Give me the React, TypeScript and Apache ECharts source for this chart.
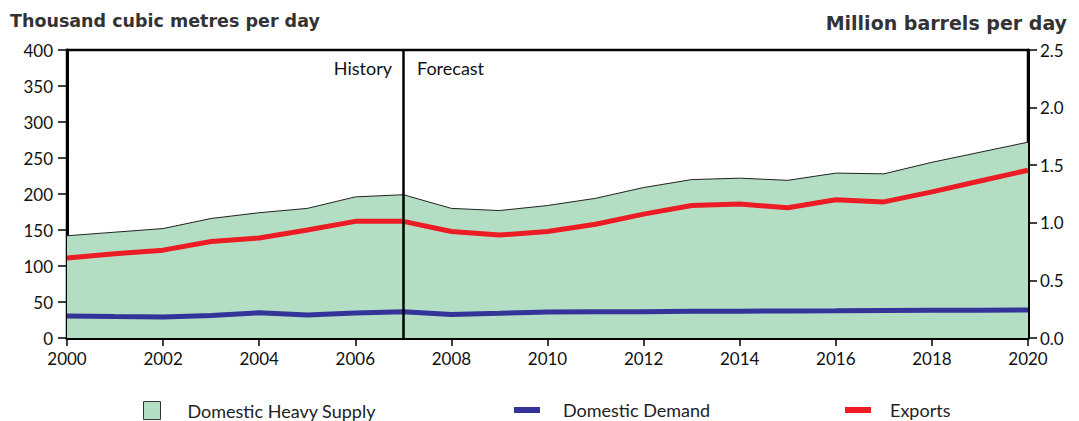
import React, { useEffect, useRef } from "react";
import * as echarts from "echarts";

const years = [2000, 2001, 2002, 2003, 2004, 2005, 2006, 2007, 2008, 2009, 2010, 2011, 2012, 2013, 2014, 2015, 2016, 2017, 2018, 2019, 2020];
const supply = [142, 147, 152, 166, 174, 180, 196, 199, 180, 177, 184, 194, 209, 220, 222, 219, 229, 228, 244, 258, 272];
const exportsVals = [111, 117, 122, 134, 139, 150, 162, 162, 148, 143, 148, 158, 172, 184, 186, 181, 192, 189, 203, 218, 233];
const demand = [30.5, 29.8, 29.2, 31.3, 35, 32, 34.6, 36.5, 32.8, 34.3, 36, 36.3, 36.6, 37, 37.2, 37.5, 37.8, 38.2, 38.5, 38.7, 39];
const leftTicks = [0, 50, 100, 150, 200, 250, 300, 350, 400];
const rightMax = 2.5;
const dividerYear = 2007;

const FONT = "Lato";
const TITLE_FONT = "DejaVu Sans";

export default function App() {
  const ref = useRef<HTMLDivElement>(null);
  useEffect(() => {
    const chart = echarts.init(ref.current!, null, { renderer: "svg" });
    const pair = (arr: number[]) => years.map((y, i) => [y, arr[i]]);
    const legendText = { fontFamily: FONT, fontSize: 18, color: "#222" };
    chart.setOption({
      animation: false,
      textStyle: { fontFamily: FONT },
      grid: { left: 67, right: 51, top: 50, bottom: 83, show: true, borderColor: "#000", borderWidth: 2.5 },
      title: [
        { text: "Thousand cubic metres per day", left: 10, top: 12, padding: 0, textStyle: { fontFamily: TITLE_FONT, fontWeight: "bold", fontSize: 17.5, color: "#333" } },
        { text: "Million barrels per day", right: 12, top: 13, padding: 0, textStyle: { fontFamily: TITLE_FONT, fontWeight: "bold", fontSize: 19, color: "#333" } },
      ],
      legend: [
        { data: ["Domestic Heavy Supply"], left: 143, top: 401, padding: 0, icon: "rect", itemWidth: 17, itemHeight: 18,
          itemStyle: { borderColor: "#333", borderWidth: 1 },
          textStyle: { ...legendText, padding: [0, 0, 4, 22] } },
        { data: ["Domestic Demand"], left: 514, top: 401, padding: 0, icon: "rect", itemWidth: 26, itemHeight: 6,
          textStyle: { ...legendText, padding: [0, 0, 4, 18] } },
        { data: ["Exports"], left: 845, top: 401, padding: 0, icon: "rect", itemWidth: 26, itemHeight: 6,
          textStyle: { ...legendText, padding: [0, 0, 4, 14] } },
      ],
      xAxis: {
        type: "value", min: 2000, max: 2020, interval: 2,
        axisLine: { lineStyle: { color: "#000", width: 3 } },
        axisTick: { show: true, length: 8, lineStyle: { color: "#000", width: 1.5 } },
        axisLabel: { color: "#111", fontSize: 17, margin: 12, formatter: (v: number) => String(v) },
        splitLine: { show: false },
      },
      yAxis: [
        {
          type: "value", min: leftTicks[0], max: leftTicks[leftTicks.length - 1], interval: 50,
          axisLine: { show: true, lineStyle: { color: "#000", width: 3 } },
          axisTick: { show: true, length: 9, lineStyle: { color: "#000", width: 1.5 } },
          axisLabel: { color: "#111", fontSize: 17, margin: 14 },
          splitLine: { show: false },
        },
        {
          type: "value", min: 0, max: rightMax, interval: 0.5, position: "right",
          axisLine: { show: true, lineStyle: { color: "#000", width: 3 } },
          axisTick: { show: true, length: 9, lineStyle: { color: "#000", width: 1.5 } },
          axisLabel: { color: "#111", fontSize: 17, margin: 12, formatter: (v: number) => v.toFixed(1) },
          splitLine: { show: false },
        },
      ],
      series: [
        {
          name: "Domestic Heavy Supply", type: "line", data: pair(supply), symbol: "none",
          color: "#b3dec3",
          lineStyle: { color: "#222", width: 1 },
          areaStyle: { color: "#b3dec3", opacity: 1 },
          itemStyle: { color: "#b3dec3" },
          markLine: {
            silent: true, symbol: "none",
            lineStyle: { color: "#000", width: 2.5, type: "solid" },
            label: { show: false },
            data: [{ xAxis: dividerYear }],
          },
          z: 1,
        },
        {
          name: "Domestic Demand", type: "line", data: pair(demand), symbol: "none",
          color: "#333399",
          lineStyle: { color: "#333399", width: 5 }, z: 3,
        },
        {
          name: "Exports", type: "line", data: pair(exportsVals), symbol: "none",
          color: "#ed1c24",
          lineStyle: { color: "#ed1c24", width: 5 }, z: 3,
        },
      ],
      graphic: [
        { type: "text", right: 1079 - 392, top: 59, style: { text: "History", fontFamily: FONT, fontSize: 18, fill: "#111", textAlign: "right" } },
        { type: "text", left: 417, top: 59, style: { text: "Forecast", fontFamily: FONT, fontSize: 18, fill: "#111" } },
      ],
    });
    return () => chart.dispose();
  }, []);
  return <div ref={ref} style={{ width: 1079, height: 421, position: "absolute", left: 0, top: 0 }} />;
}
